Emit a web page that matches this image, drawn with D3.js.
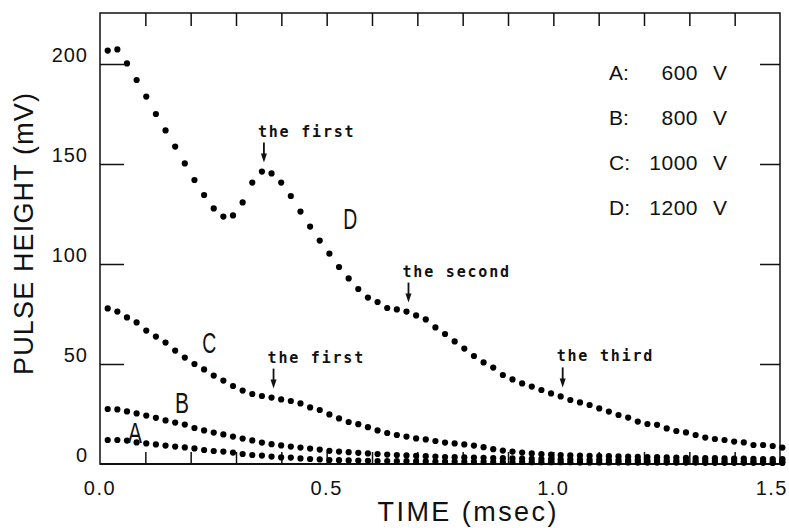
<!DOCTYPE html>
<html>
<head>
<meta charset="utf-8">
<script src="https://cdn.jsdelivr.net/npm/d3@7/dist/d3.min.js"></script>
<style>
    body { margin: 0; background: #fff; }
    text { fill: #111; }
</style>
</head>
<body>
<script>
// sampling of the recorded pulses (msec)
const sampleStart = 0.017;
const sampleStep = 0.02126;

// pulse height in mV, one value per sample
const seriesA = [12, 12, 11.7, 10.8, 10.3, 9.8, 9.2, 8.7, 8.3, 7.8,
    7, 6.5, 6.2, 5.7, 5, 4.5, 4.2, 3.7, 3.3, 3.2,
    2.8, 2.5, 2.3, 2.0, 1.9, 1.8, 1.7, 1.6, 1.5, 1.5,
    1.4, 1.4, 1.3, 1.3, 1.2, 1.2, 1.2, 1.1, 1.1, 1.1,
    1.0, 1.0, 1.0, 1.0, 0.9, 0.9, 0.9, 0.9, 0.9, 0.8,
    0.8, 0.8, 0.8, 0.8, 0.8, 0.7, 0.7, 0.7, 0.7, 0.7,
    0.7, 0.7, 0.6, 0.6, 0.6, 0.6, 0.6, 0.6, 0.6, 0.5, 0.5];
const seriesB = [27.5, 27.3, 26.3, 25.3, 24.2, 23.1, 21.8, 20.7, 19.7, 18,
    16.8, 15.7, 14.8, 13.7, 12.7, 11.8, 10.7, 9.9, 9.3, 8.7,
    8.2, 7.7, 7.2, 6.6, 6.2, 5.9, 5.6, 5.3, 5.0, 4.7,
    4.5, 4.3, 4.1, 3.9, 3.7, 3.5, 3.4, 3.3, 3.2, 3.1,
    3.0, 2.9, 2.8, 2.7, 2.6, 2.5, 2.4, 2.3, 2.3, 2.2,
    2.1, 2.1, 2.0, 2.0, 1.9, 1.9, 1.8, 1.8, 1.7, 1.7,
    1.6, 1.6, 1.6, 1.5, 1.5, 1.5, 1.4, 1.4, 1.4, 1.3, 1.3];
const seriesC = [77.8, 76.2, 73.3, 70.8, 66.7, 63.7, 60.7, 56.7, 53.2, 50,
    47.3, 44.2, 41.7, 39, 36.7, 35, 34, 33.2, 32.3, 31.5,
    30.3, 28.3, 27, 24.8, 22.8, 21, 19.9, 18.4, 16.8, 15.5,
    14.5, 13.7, 12.8, 12.3, 11.5, 10.7, 10.3, 9.8, 9.2, 8.4,
    7.4, 6.7, 6.2, 5.7, 5.3, 4.9, 4.7, 4.5, 4.3, 4.2,
    4.1, 4.0, 3.9, 3.8, 3.7, 3.6, 3.5, 3.4, 3.3, 3.2,
    3.1, 3.0, 2.9, 2.9, 2.8, 2.7, 2.7, 2.6, 2.5, 2.5, 2.4];
const seriesD = [206.7, 207.3, 200.3, 192, 183.7, 175, 166.8, 158.7, 150.3, 142,
    134.5, 127.8, 123.7, 124.3, 130.8, 140.7, 146.2, 145.3, 140.7, 134,
    126.2, 118.7, 111.7, 105.2, 98.5, 92.8, 87.5, 83.2, 81, 78,
    77.3, 76.2, 74.3, 72.3, 68.3, 65, 61.3, 57.7, 54, 50.8,
    48.2, 44.5, 42.3, 40.3, 38.7, 37, 35.3, 33.8, 32, 30.8,
    29.5, 27.8, 26.2, 24.5, 23.2, 21.2, 20, 19.6, 17.8, 16.5,
    15.8, 14.5, 13.2, 12.5, 12, 11.2, 10.8, 9.5, 9.5, 9, 8.2];

const seriesNames = ["A", "B", "C", "D"];
const voltages = [600, 800, 1000, 1200];
const xTickLabels = [0, 0.5, 1.0, 1.5];
const yTickValues = [0, 50, 100, 150, 200];

// arrows: which series, which sample, what text
const notes = [
    { s: "D", i: 16, text: "the first" },
    { s: "D", i: 31, text: "the second" },
    { s: "D", i: 47, text: "the third" },
    { s: "C", i: 17, text: "the first" }
];
// curve letters, in data units (msec, mV)
const curveLabels = [
    { s: "A", t: 0.077, v: 16 },
    { s: "B", t: 0.181, v: 31 },
    { s: "C", t: 0.241, v: 61 },
    { s: "D", t: 0.552, v: 123 }
];

function init() {
    var w = 789;
    var h = 528;
    var left = 100, right = 780, top = 13, bottom = 464;

    var x = d3.scaleLinear().domain([0, 1.5]).range([left, right]);
    var y = d3.scaleLinear().domain([0, 225.5]).range([bottom, top]);

    var data = { A: seriesA, B: seriesB, C: seriesC, D: seriesD };
    var t = function(i) { return sampleStart + i * sampleStep; };

    var svg = d3.select("body")
        .append("svg")
        .attr("width", w)
        .attr("height", h)
        .style("font-family", "'Liberation Sans', Arial, sans-serif");

    // frame
    svg.append("rect")
        .attr("x", left).attr("y", top)
        .attr("width", right - left).attr("height", bottom - top)
        .attr("fill", "none").attr("stroke", "#111").attr("stroke-width", 1.5);
    svg.append("line")
        .attr("x1", left).attr("x2", right)
        .attr("y1", bottom).attr("y2", bottom)
        .attr("stroke", "#111").attr("stroke-width", 2.2);

    var minor = x.ticks(15).filter(function(d) { return d > 0 && d < 1.5; });

    // top ticks, pointing down
    var gTop = svg.append("g")
        .attr("transform", "translate(0," + top + ")")
        .call(d3.axisTop(x).tickValues(minor).tickSize(-13).tickFormat(""));
    // bottom ticks, pointing up
    var gBot = svg.append("g")
        .attr("transform", "translate(0," + bottom + ")")
        .call(d3.axisBottom(x).tickValues(minor).tickSize(-12).tickFormat(""));
    // left ticks
    var gLeft = svg.append("g")
        .attr("transform", "translate(" + left + ",0)")
        .call(d3.axisLeft(y).tickValues(yTickValues.filter(function(d) { return d > 0; }))
            .tickSize(-24).tickFormat(""));
    // right ticks
    var gRight = svg.append("g")
        .attr("transform", "translate(" + right + ",0)")
        .call(d3.axisRight(y).tickValues(yTickValues.filter(function(d) { return d > 0; }))
            .tickSize(-20).tickFormat(""));

    [gTop, gBot, gLeft, gRight].forEach(function(g) {
        g.select(".domain").remove();
        g.selectAll("line").attr("stroke", "#111").attr("stroke-width", 1.5);
    });

    // tick labels
    svg.append("g").selectAll("text")
        .data(xTickLabels)
        .enter()
        .append("text")
        .attr("x", function(d) { return d === 1.5 ? x(d) + 8 : x(d); })
        .attr("y", 495)
        .attr("text-anchor", function(d) { return d === 1.5 ? "end" : "middle"; })
        .attr("font-size", 20)
        .attr("letter-spacing", 1.5)
        .text(d3.format(".1f"));

    svg.append("g").selectAll("text")
        .data(yTickValues)
        .enter()
        .append("text")
        .attr("x", 88)
        .attr("y", function(d) { return y(d) - 2; })
        .attr("text-anchor", "end")
        .attr("font-size", 20)
        .attr("letter-spacing", 1)
        .text(function(d) { return d; });

    // axis titles
    svg.append("text")
        .attr("x", 467).attr("y", 521)
        .attr("text-anchor", "middle")
        .attr("font-size", 27)
        .attr("textLength", 179)
        .text("TIME (msec)");

    svg.append("text")
        .attr("transform", "translate(33,234) rotate(-90)")
        .attr("text-anchor", "middle")
        .attr("font-size", 27)
        .attr("textLength", 282)
        .text("PULSE HEIGHT (mV)");

    // points
    seriesNames.forEach(function(name) {
        svg.append("g").selectAll("circle")
            .data(data[name])
            .enter()
            .append("circle")
            .attr("cx", function(d, i) { return x(t(i)); })
            .attr("cy", function(d) { return y(d); })
            .attr("r", 3.1)
            .attr("fill", "#000");
    });

    // curve letters
    svg.append("g").selectAll("text")
        .data(curveLabels)
        .enter()
        .append("text")
        .attr("x", function(d) { return x(d.t) - 7; })
        .attr("y", function(d) { return y(d.v) + 11; })
        .attr("font-size", 30)
        .attr("textLength", 14)
        .attr("lengthAdjust", "spacingAndGlyphs")
        .text(function(d) { return d.s; });

    // arrows with notes
    var gNotes = svg.append("g").selectAll("g")
        .data(notes)
        .enter()
        .append("g")
        .attr("transform", function(d) {
            return "translate(" + (x(t(d.i)) + 2) + "," + (y(data[d.s][d.i]) - 9) + ")";
        });
    gNotes.append("line")
        .attr("x1", 0).attr("x2", 0)
        .attr("y1", -20).attr("y2", -5)
        .attr("stroke", "#111").attr("stroke-width", 1.8);
    gNotes.append("path")
        .attr("d", "M-3,-9 L3,-9 L0,0 Z")
        .attr("fill", "#111");
    gNotes.append("text")
        .attr("x", -6)
        .attr("y", -26)
        .attr("font-family", "'DejaVu Sans Mono', monospace")
        .attr("font-weight", "bold")
        .attr("font-size", 15)
        .attr("letter-spacing", 1.8)
        .text(function(d) { return d.text; });

    // legend
    var legend = svg.append("g").selectAll("g")
        .data(seriesNames)
        .enter()
        .append("g")
        .attr("transform", function(d, i) { return "translate(0," + (80 + i * 45) + ")"; })
        .attr("font-size", 21);
    legend.append("text")
        .attr("x", 609)
        .text(function(d) { return d + ":"; });
    legend.append("text")
        .attr("x", 698)
        .attr("text-anchor", "end")
        .attr("letter-spacing", 0.5)
        .text(function(d, i) { return voltages[i]; });
    legend.append("text")
        .attr("x", 713)
        .text("V");
}
window.onload = init;
</script>
</body>
</html>
